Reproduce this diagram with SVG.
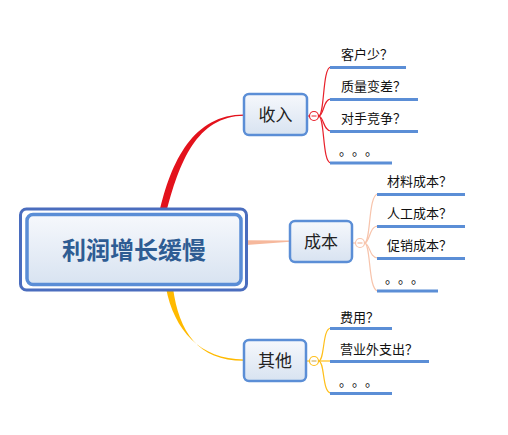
<svg xmlns="http://www.w3.org/2000/svg" width="508" height="435" viewBox="0 0 508 435">
<defs>
<linearGradient id="g" x1="0" y1="0" x2="0" y2="1">
<stop offset="0" stop-color="#F6F8FC"/>
<stop offset="1" stop-color="#D8E3F1"/>
</linearGradient>
<style>
.t{font-family:"Noto Sans CJK SC","Liberation Sans",sans-serif;text-spacing-trim:space-all;}
.main{font-size:24px;font-weight:bold;fill:#2E5C93;}
.br{font-size:17px;fill:#222;}
.ch{font-size:13px;fill:#111;}
.box{fill:url(#g);stroke:#5B8ED6;stroke-width:2.5;}
.ul{stroke:#5B8ED6;stroke-width:3;fill:none;}
.cr{fill:none;stroke:#E8212B;stroke-width:1.2;}
.cp{fill:none;stroke:#F7C4AC;stroke-width:1.2;}
.cy{fill:none;stroke:#FFBF1A;stroke-width:1.2;}
</style>
</defs>
<rect width="508" height="435" fill="#fff"/>
<g id="connectors">
<path d="M159,214 C171,160 194,114.4 244,114.4 L244,115.8 C197,116.3 179,162 166,214 Z" fill="#E3121C"/>
<path d="M166,288 C174,330 200,359.4 244,359.4 L244,360.8 C198,361 179,332 173,288 Z" fill="#FFBA00"/>
<path d="M243,240.3 L290,240.6 L290,241.8 L243,245.3 Z" fill="#F6B89C"/>
<path class="cr" d="M307,116 L309.5,116"/>
<path class="cr" d="M318.5,116 C325,116 322,67 331,67"/>
<path class="cr" d="M318.5,116 C324,116 323,99 331,99"/>
<path class="cr" d="M318.5,116 C324,116 323,131 331,131"/>
<path class="cr" d="M318.5,116 C325,116 322,163 331,163"/>
<path class="cp" d="M352,243 L355.5,243"/>
<path class="cp" d="M364.5,243 C371,243 368,194 378,194"/>
<path class="cp" d="M364.5,243 C370,243 369,226 378,226"/>
<path class="cp" d="M364.5,243 C370,243 369,258 378,258"/>
<path class="cp" d="M364.5,243 C371,243 368,291 378,291"/>
<path class="cy" d="M306,361 L309.5,361"/>
<path class="cy" d="M318.5,361 C325,361 322,328 331,328"/>
<path class="cy" d="M318.5,361 L331,361"/>
<path class="cy" d="M318.5,361 C325,361 322,393 331,393"/>
</g>
<g id="main">
<rect x="20.5" y="209" width="226" height="81" rx="6" fill="#fff" stroke="#4A6DBE" stroke-width="3"/>
<rect x="27" y="214.5" width="214" height="70" rx="6" fill="url(#g)" stroke="#5A8DD6" stroke-width="3.5"/>
<text class="t main" x="134" y="259" text-anchor="middle">利润增长缓慢</text>
</g>
<g id="n-income">
<rect class="box" x="244" y="94" width="63" height="41" rx="5"/>
<text class="t br" x="275.5" y="120.5" text-anchor="middle">收入</text>
<circle cx="314" cy="116" r="4.5" fill="#fff" stroke="#E8212B" stroke-width="1.2"/>
<path d="M311.5,116 H316.5" stroke="#E8212B" stroke-width="1"/>
</g>
<g id="n-cost">
<rect class="box" x="290" y="221" width="62" height="41" rx="5"/>
<text class="t br" x="321" y="247.5" text-anchor="middle">成本</text>
<circle cx="360" cy="243" r="4.5" fill="#fff" stroke="#F7C4AC" stroke-width="1.2"/>
<path d="M357.5,243 H362.5" stroke="#F0A888" stroke-width="1"/>
</g>
<g id="n-other">
<rect class="box" x="244" y="340" width="62" height="41" rx="5"/>
<text class="t br" x="275" y="366.5" text-anchor="middle">其他</text>
<circle cx="314" cy="361" r="4.5" fill="#fff" stroke="#FFBF1A" stroke-width="1.2"/>
<path d="M311.5,361 H316.5" stroke="#C8A040" stroke-width="1"/>
</g>
<g id="c1"><text class="t ch" x="341" y="59">客户少？</text><path class="ul" d="M330,67.5 H406"/></g>
<g id="c2"><text class="t ch" x="341" y="91">质量变差？</text><path class="ul" d="M330,99.5 H418"/></g>
<g id="c3"><text class="t ch" x="341" y="123">对手竞争？</text><path class="ul" d="M330,131.5 H418"/></g>
<g id="c4"><text class="t ch" x="339" y="154.5">。。。</text><path class="ul" d="M330,163 H392"/></g>
<g id="c5"><text class="t ch" x="387" y="186">材料成本？</text><path class="ul" d="M377,194.5 H465"/></g>
<g id="c6"><text class="t ch" x="387" y="218">人工成本？</text><path class="ul" d="M377,226.5 H465"/></g>
<g id="c7"><text class="t ch" x="387" y="250">促销成本？</text><path class="ul" d="M377,258.5 H465"/></g>
<g id="c8"><text class="t ch" x="385" y="283">。。。</text><path class="ul" d="M377,291 H438"/></g>
<g id="c9"><text class="t ch" x="340" y="322">费用？</text><path class="ul" d="M330,328.5 H392"/></g>
<g id="c10"><text class="t ch" x="340" y="354">营业外支出？</text><path class="ul" d="M330,361.5 H429"/></g>
<g id="c11"><text class="t ch" x="339" y="385.5">。。。</text><path class="ul" d="M330,393.5 H392"/></g>
</svg>
